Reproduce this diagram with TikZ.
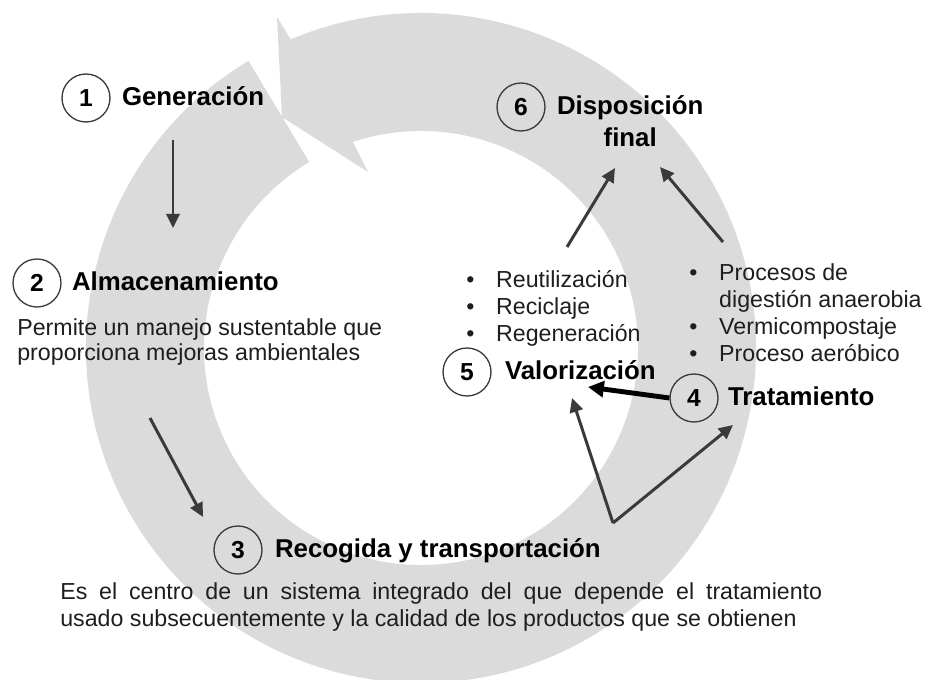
\documentclass[tikz,border=0pt]{standalone}
\usepackage{fontspec}
\setmainfont{Liberation Sans}
\usetikzlibrary{positioning,arrows.meta}

\definecolor{ringgray}{HTML}{DBDBDB}
\definecolor{arrowgray}{HTML}{3A3A3A}
\definecolor{bodytext}{HTML}{1E1E1E}
\newcommand\itembul{\makebox[17pt][l]{\textbullet}}

\begin{document}
\begin{tikzpicture}[x=0.02cm,y=0.02cm,
    num/.style={circle,draw=arrowgray,line width=0.75pt,minimum size=0.96cm,inner sep=0pt,
      font=\fontsize{14}{16}\selectfont\bfseries},
    title/.style={inner sep=0pt,text height=11pt,text depth=3pt,
      font=\fontsize{14.7}{18}\selectfont\bfseries},
    body/.style={inner sep=0pt,align=left,text=bodytext,
      font=\fontsize{13.2}{15.3}\selectfont},
    flow/.style={draw=arrowgray,line width=1.7pt,-{Triangle[length=8pt,width=7.5pt]}},
    bigflow/.style={draw=black,line width=2.8pt,-{Triangle[length=9pt,width=9pt]}}]
    \useasboundingbox (0,0) rectangle (932,679);
    \clip (0,0) rectangle (932,679);
    % grey circular arrow
    \coordinate (C) at (421,331);
    \fill[ringgray] (C) ++(121:335) arc[start angle=121,end angle=472.9,radius=335]
        -- (277,662) -- (282,562) -- (368,507)
        -- ([shift={(468.3:217)}]C) arc[start angle=468.3,end angle=121,radius=217] -- cycle;
    % steps
    \node[num] (c1) at (86,581) {1};
    \node[title,right=0.22cm of c1] (t1) {Generación};
    \node[num] (c2) at (37,396) {2};
    \node[title,right=0.2cm of c2] (t2) {Almacenamiento};
    \node[body,anchor=west,font=\fontsize{13.2}{14.2}\selectfont] (d2) at (17,337)
        {Permite un manejo sustentable que\\proporciona mejoras ambientales};
    \node[num] (c3) at (238,129) {3};
    \node[title,right=0.24cm of c3] (t3) {Recogida y transportación};
    \node[body,anchor=west,text width=15.24cm,align=justify] (d3) at (60,72)
        {\parfillskip=0pt Es el centro de un sistema integrado del que depende el tratamiento\linebreak
         usado subsecuentemente y la calidad de los productos que se obtienen};
    \node[num] (c4) at (694,281) {4};
    \node[title,right=0.18cm of c4] (t4) {Tratamiento};
    \node[body,anchor=west] (b4) at (689,366)
        {\itembul Procesos de\\\hspace*{17pt}digestión anaerobia\\\itembul Vermicompostaje\\\itembul Proceso aeróbico};
    \node[num] (c5) at (467,307) {5};
    \node[title,right=0.26cm of c5] (t5) {Valorización};
    \node[body,anchor=west] (b5) at (466,371)
        {\itembul Reutilización\\\itembul Reciclaje\\\itembul Regeneración};
    \node[num] (c6) at (521,572) {6};
    \node[title,right=0.22cm of c6] (t6) {Disposición};
    \node[title,below=0.15cm of t6] (t6f) {final};
    % arrow ends
    \coordinate (gen-out) at (173,539);
    \coordinate (alm-in) at (173,451);
    \coordinate (alm-out) at (150,261);
    \coordinate (rec-in) at (203,162);
    \coordinate (fork) at (613,156);
    \coordinate (val-in) at (572,281);
    \coordinate (tra-in) at (733,254);
    \coordinate (val-side) at (588,292);
    \coordinate (val-out) at (567,432);
    \coordinate (fin-l) at (615,511);
    \coordinate (tra-out) at (723,437);
    \coordinate (fin-r) at (660,512);
    % arrows
    \draw[flow] (gen-out) -- (alm-in);
    \draw[flow] (alm-out) -- (rec-in);
    \draw[flow] (fork) -- (val-in);
    \draw[flow] (fork) -- (tra-in);
    \draw[bigflow] (c4.west) -- (val-side);
    \draw[flow] (val-out) -- (fin-l);
    \draw[flow] (tra-out) -- (fin-r);
\end{tikzpicture}
\end{document}
